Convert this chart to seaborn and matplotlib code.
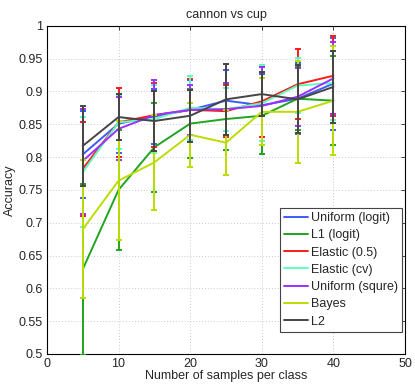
import matplotlib
matplotlib.use("Agg")
import matplotlib.pyplot as plt
import numpy as np
import pandas as pd
import seaborn as sns

# samples per class
n_samples = [5, 10, 15, 20, 25, 30, 35, 40]

method_names = ["Uniform (logit)", "L1 (logit)", "Elastic (0.5)", "Elastic (cv)",
                "Uniform (squre)", "Bayes", "L2"]

uniform_logit_mean = [0.804, 0.851, 0.862, 0.872, 0.886, 0.879, 0.889, 0.912]
uniform_logit_std = [0.067, 0.045, 0.042, 0.046, 0.046, 0.048, 0.054, 0.070]
l1_logit_mean = [0.629, 0.750, 0.815, 0.851, 0.858, 0.863, 0.889, 0.886]
l1_logit_std = [0.130, 0.091, 0.068, 0.053, 0.047, 0.058, 0.048, 0.068]
elastic_05_mean = [0.782, 0.853, 0.864, 0.872, 0.870, 0.885, 0.911, 0.924]
elastic_05_std = [0.072, 0.053, 0.049, 0.047, 0.040, 0.055, 0.053, 0.061]
elastic_cv_mean = [0.777, 0.853, 0.858, 0.875, 0.873, 0.882, 0.909, 0.913]
elastic_cv_std = [0.084, 0.041, 0.052, 0.049, 0.033, 0.058, 0.042, 0.057]
uniform_sq_mean = [0.794, 0.843, 0.864, 0.872, 0.873, 0.878, 0.892, 0.920]
uniform_sq_std = [0.080, 0.048, 0.054, 0.038, 0.040, 0.059, 0.044, 0.055]
bayes_mean = [0.690, 0.764, 0.792, 0.834, 0.822, 0.869, 0.869, 0.886]
bayes_std = [0.105, 0.091, 0.072, 0.049, 0.050, 0.051, 0.078, 0.083]
l2_mean = [0.817, 0.861, 0.855, 0.863, 0.888, 0.896, 0.888, 0.907]
l2_std = [0.061, 0.035, 0.045, 0.040, 0.054, 0.033, 0.052, 0.055]

colores = ["#3b5bff", "#1fa51f", "#ff1a1a", "#5cffc0", "#9b30ff", "#bcdc00", "#454545"]

medias = [uniform_logit_mean, l1_logit_mean, elastic_05_mean, elastic_cv_mean,
          uniform_sq_mean, bayes_mean, l2_mean]
desvs = [uniform_logit_std, l1_logit_std, elastic_05_std, elastic_cv_std,
         uniform_sq_std, bayes_std, l2_std]

# long-form table for seaborn
filas = []
for nombre, m in zip(method_names, medias):
    for x, v in zip(n_samples, m):
        filas.append({"n": x, "acc": v, "metodo": nombre})
df = pd.DataFrame(filas)

sns.set_style("white")
plt.rcParams["font.family"] = ["Liberation Sans", "DejaVu Sans"]
plt.rcParams["font.size"] = 9

fig = plt.figure(figsize=(4.15, 3.86), dpi=100)
ax = fig.add_axes([0.113, 0.083, 0.863, 0.850])

sns.lineplot(data=df, x="n", y="acc", hue="metodo", hue_order=method_names,
             palette=colores, linewidth=1.4, ax=ax, legend=True)

# error bars drawn per series, each on top of the previous line (matlab style)
for i, (m, s, c) in enumerate(zip(medias, desvs, colores)):
    ax.lines[i].set_zorder(3 + 2 * i)
    ax.errorbar(n_samples, m, yerr=s, fmt="none", ecolor=c, elinewidth=1.4,
                capsize=2.3, capthick=1.4, zorder=4 + 2 * i)

ax.set_xlim(0, 50)
ax.set_ylim(0.5, 1)
ax.set_xticks([0, 10, 20, 30, 40, 50])
ax.set_yticks(np.arange(0.5, 1.001, 0.05))
ax.set_yticklabels(["0.5", "0.55", "0.6", "0.65", "0.7", "0.75", "0.8",
                    "0.85", "0.9", "0.95", "1"])
ax.tick_params(direction="in", top=True, right=True, length=3, width=0.6,
               labelsize=9, pad=3)
ax.grid(True, linestyle=(0, (1, 2.5)), color="#b8b8b8", linewidth=0.6)
for sp in ax.spines.values():
    sp.set_color("black")
    sp.set_linewidth(0.8)

ax.set_xlabel("Number of samples per class", fontsize=9, labelpad=0)
ax.set_ylabel("Accuracy", fontsize=9, labelpad=2)
ax.set_title("cannon vs cup", fontsize=9, pad=6)

leg = ax.legend(loc="lower right", bbox_to_anchor=(0.992, 0.067),
                borderaxespad=0, fancybox=False, edgecolor="#444444",
                fontsize=9, handlelength=1.9, labelspacing=0.42,
                handletextpad=0.25, borderpad=0.35, framealpha=1)
leg.get_frame().set_linewidth(0.8)
for h in leg.get_lines():
    h.set_linewidth(1.4)

fig.savefig("out.png", dpi=100)
